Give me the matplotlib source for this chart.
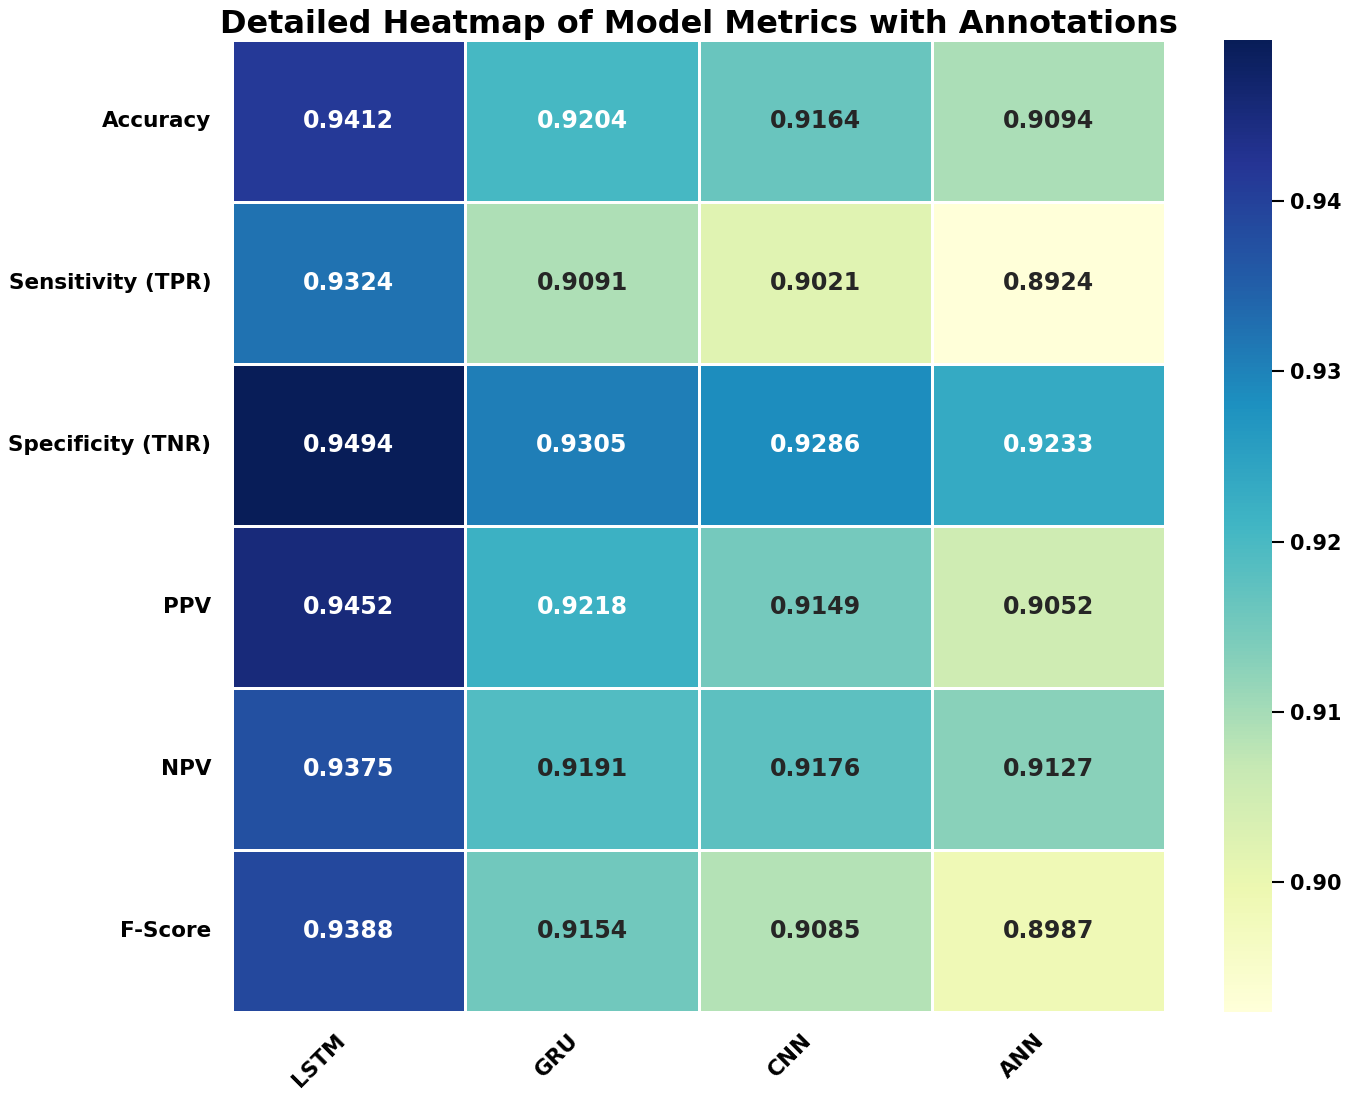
import matplotlib
matplotlib.use("Agg")
import matplotlib.pyplot as plt
import numpy as np
import pandas as pd
import seaborn as sns

models = ["LSTM", "GRU", "CNN", "ANN"]
metrics = ["Accuracy", "Sensitivity (TPR)", "Specificity (TNR)", "PPV", "NPV", "F-Score"]
lstm = [0.9412, 0.9324, 0.9494, 0.9452, 0.9375, 0.9388]
gru = [0.9204, 0.9091, 0.9305, 0.9218, 0.9191, 0.9154]
cnn = [0.9164, 0.9021, 0.9286, 0.9149, 0.9176, 0.9085]
ann = [0.9094, 0.8924, 0.9233, 0.9052, 0.9127, 0.8987]

df = pd.DataFrame({"LSTM": lstm, "GRU": gru, "CNN": cnn, "ANN": ann}, index=metrics)

fig = plt.figure(figsize=(13.5, 10.94), dpi=100)
ax = fig.add_axes([0.172, 0.075, 0.691, 0.888])
cax = fig.add_axes([0.907, 0.075, 0.035, 0.888])

sns.heatmap(
    df,
    ax=ax,
    cbar_ax=cax,
    cmap="YlGnBu",
    annot=True,
    fmt=".4f",
    linewidths=1.0,
    linecolor="white",
    annot_kws={"fontsize": 17, "fontweight": "bold"},
)

ax.set_title("Detailed Heatmap of Model Metrics with Annotations",
             fontsize=23, fontweight="bold", pad=4)
ax.set_xticklabels(models, rotation=45, ha="right", fontsize=15.5, fontweight="bold")
ax.set_yticklabels(metrics, rotation=0, fontsize=15.5, fontweight="bold")
ax.tick_params(axis="y", length=0, pad=15)
ax.tick_params(axis="x", length=0, pad=13)

cax.set_yticks([0.90, 0.91, 0.92, 0.93, 0.94])
cax.tick_params(labelsize=15, length=8.5, width=1.5, pad=5)
for t in cax.get_yticklabels():
    t.set_fontweight("bold")

fig.savefig("out.png", dpi=100)
